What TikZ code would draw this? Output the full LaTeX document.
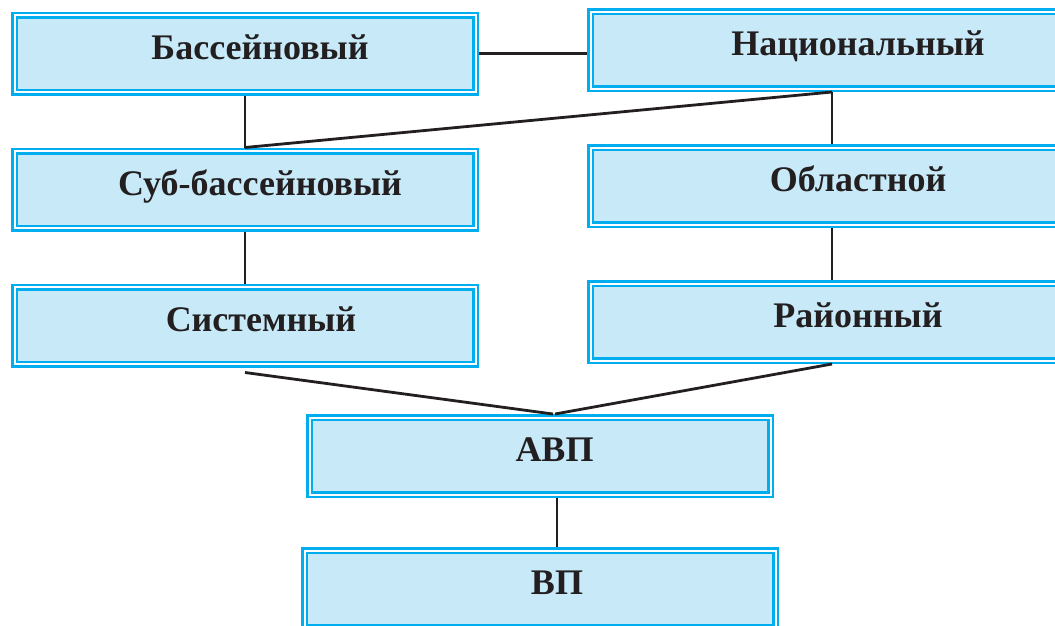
\documentclass[tikz,border=0pt]{standalone}
\usepackage{fontspec}
\setmainfont{Liberation Serif}
\usepackage{tikz}
\definecolor{boxline}{HTML}{00AEEF}
\definecolor{boxfill}{HTML}{C7E9F8}
\definecolor{ink}{HTML}{231F20}
\tikzstyle{box} = [rectangle, draw=boxline, line width=2.5pt, double=white,
double distance=2pt, fill=boxfill, minimum width=461pt, minimum height=77pt,
inner sep=0pt, outer sep=3.5pt, text height=26pt, text depth=15pt,
text=ink, font=\fontsize{36}{40}\selectfont\bfseries]
\tikzstyle{wbox} = [box, minimum width=483pt]
\tikzstyle{link} = [draw=ink, line width=2.8pt]

\begin{document}
\begin{tikzpicture}[x=1pt, y=-1pt, node distance=136pt]
\useasboundingbox (0,0) rectangle (1055,625);

\node(bass)[box] at (245,53.5) {\hspace*{30pt}Бассейновый};
\node(sub)[box, below of=bass]{\hspace*{30pt}Суб-бассейновый};
\node(sys)[box, below of=sub]{\hspace*{32pt}Системный};
\node(nat)[wbox, right of=bass, xshift=451pt, yshift=3.5pt]{\hspace*{52pt}Национальный};
\node(obl)[wbox, below of=nat]{\hspace*{52pt}Областной};
\node(ray)[wbox, below of=obl]{\hspace*{52pt}Районный};
\node(avp)[box, below of=sys, xshift=295pt, yshift=5.5pt]{\hspace*{29pt}АВП};
\node(vp)[box, below of=avp, yshift=3pt, minimum width=471pt]{\hspace*{34pt}ВП};

\draw[link](bass.east) -- (bass.east -| nat.west);
\draw[link](bass.south) -- (sub.north);
\draw[link](sub.north) -- (nat.south);
\draw[link](nat.south) -- (obl.north);
\draw[link](sub.south) -- (sys.north);
\draw[link](obl.south) -- (ray.north);
\draw[link]([yshift=-5pt]sys.south) -- ([xshift=13pt]avp.north);
\draw[link](ray.south) -- ([xshift=15pt]avp.north);
\draw[link]([xshift=17pt]avp.south) -- ([xshift=17pt]avp.south |- vp.north);

\end{tikzpicture}
\end{document}
